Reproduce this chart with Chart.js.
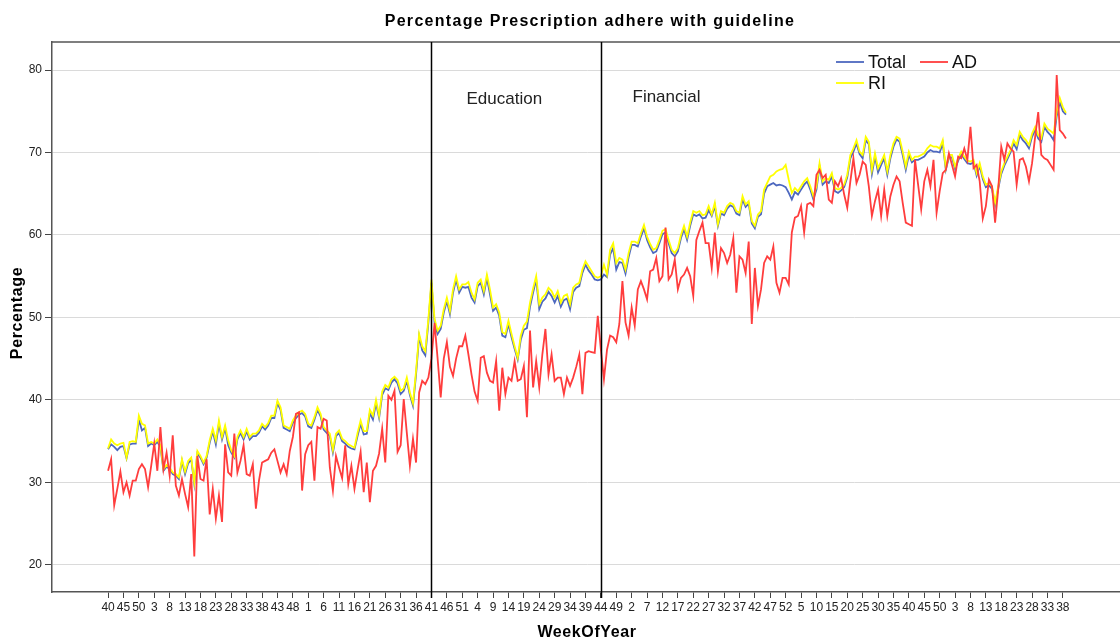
<!DOCTYPE html>
<html>
<head>
<meta charset="utf-8">
<script src="https://cdn.jsdelivr.net/npm/chart.js@4.4.1/dist/chart.umd.min.js"></script>
<style>
  html, body { margin: 0; padding: 0; background: #fff; overflow: hidden; }
  #chart { display: block; }
</style>
</head>
<body>
<canvas id="chart" width="1126" height="641"></canvas>
<script>
const $ = document;

// Week labels on the x axis, one every 5 weeks (first point is week 40)
const tickLabels = ['40','45','50','3','8','13','18','23','28','33','38','43','48','1','6','11','16','21','26','31','36','41','46','51','4','9','14','19','24','29','34','39','44','49','2','7','12','17','22','27','32','37','42','47','52','5','10','15','20','25','30','35','40','45','50','3','8','13','18','23','28','33','38'];
const yTicks = [20, 30, 40, 50, 60, 70, 80];

// Weekly percentages
const total = [
  34.0,34.6,34.3,33.9,34.3,34.4,32.9,34.6,34.7,34.7,
  37.6,36.3,36.6,34.4,34.7,34.5,34.9,34.3,31.4,31.9,
  31.6,31.0,30.8,30.4,32.6,31.0,32.3,32.8,29.8,33.5,
  33.0,32.2,33.0,34.8,36.2,34.6,37.1,35.2,36.6,34.5,
  33.6,33.0,35.2,36.0,35.2,36.2,35.2,35.6,35.6,36.0,
  36.8,36.4,36.9,37.8,37.8,39.6,38.8,36.6,36.4,36.2,
  37.2,37.8,38.2,38.4,38.0,36.8,36.6,37.6,38.8,38.0,
  36.4,36.0,35.6,33.6,35.6,36.0,35.0,34.7,34.3,34.1,
  34.0,35.6,37.1,35.8,35.9,38.4,37.6,39.6,37.8,40.6,
  41.4,41.2,42.1,42.5,42.0,40.7,41.1,42.3,40.6,39.3,
  43.1,47.7,46.0,45.4,49.4,54.2,49.4,48.0,48.6,50.6,
  52.0,50.4,53.0,54.6,53.0,53.7,53.6,53.7,52.4,51.8,
  53.8,54.2,52.8,54.8,52.8,50.8,51.2,50.2,47.8,47.6,
  49.2,47.6,46.2,44.9,47.3,48.5,48.7,51.3,53.0,54.6,
  51.0,51.9,52.3,53.1,52.6,51.8,52.6,51.3,52.1,52.3,
  51.0,53.1,53.6,53.8,55.4,56.4,55.7,55.2,54.6,54.5,
  54.6,55.2,54.9,57.6,58.4,55.8,56.7,56.6,55.3,57.3,
  58.8,58.8,58.6,59.8,60.8,59.4,58.5,57.8,58.0,59.0,
  60.1,60.3,59.0,57.8,57.4,58.0,59.6,60.7,59.4,61.1,
  62.5,62.3,62.5,62.0,62.1,63.0,62.3,63.5,61.1,62.6,
  62.4,63.2,63.6,63.4,62.6,62.4,64.3,63.4,63.8,61.4,
  60.8,62.2,62.5,65.0,65.9,66.1,66.3,66.0,66.1,66.0,
  65.8,65.1,64.3,65.2,64.9,65.5,66.1,66.5,65.5,64.3,
  65.5,68.3,66.1,66.5,66.3,67.1,65.3,65.1,65.4,65.8,
  67.0,69.3,70.1,71.1,69.8,69.3,71.5,71.0,67.4,69.5,
  67.6,68.5,69.3,67.3,69.3,70.7,71.6,71.3,69.7,67.9,
  69.7,68.8,69.1,69.1,69.3,69.5,70.0,70.3,70.1,70.1,
  70.0,71.1,67.9,69.4,69.4,68.0,69.0,69.8,69.2,68.7,
  68.6,68.8,67.2,68.4,66.8,65.8,66.0,65.6,63.6,65.6,
  67.4,68.4,69.2,70.0,71.1,70.4,72.1,71.5,71.1,70.5,
  71.9,72.7,71.7,71.3,73.1,72.5,72.1,71.5,74.4,76.1,
  75.0,74.6
];

const ad = [
  31.4,32.8,27.2,29.2,31.3,28.8,30.0,28.4,30.2,30.2,
  31.6,32.2,31.6,29.4,32.0,34.7,31.4,36.7,31.6,33.6,
  30.8,35.7,29.6,28.4,30.4,28.6,27.0,31.0,21.0,33.2,
  30.4,30.2,32.8,26.1,29.2,25.6,28.4,25.2,34.6,31.2,
  30.8,35.9,31.2,32.6,34.5,31.0,30.8,32.2,26.8,30.2,
  32.4,32.6,32.8,33.6,34.0,32.6,31.2,32.2,31.0,33.8,
  35.5,38.3,38.5,29.0,33.4,34.5,34.9,30.2,36.7,36.5,
  37.7,37.5,31.8,29.0,33.2,31.8,30.5,34.5,29.8,32.0,
  29.2,31.5,33.7,28.8,32.4,27.6,31.4,32.0,33.5,36.5,
  32.4,40.5,40.0,41.1,33.7,34.5,40.1,36.0,32.0,35.3,
  32.4,40.9,42.3,41.9,42.7,45.0,49.3,45.0,40.3,45.0,
  47.0,44.0,42.9,45.0,46.5,46.5,47.8,45.5,43.1,41.0,
  39.9,45.1,45.3,43.3,42.3,42.1,44.7,38.7,43.9,40.7,
  42.7,42.3,44.7,42.3,42.5,44.1,37.9,48.4,41.5,44.7,
  41.5,45.5,48.6,43.1,45.5,42.3,42.7,42.7,40.7,42.7,
  41.7,42.7,44.0,45.5,40.7,45.7,45.9,45.8,45.7,50.2,
  46.1,42.5,46.1,47.8,47.6,47.0,49.2,54.4,49.4,47.8,
  51.2,49.0,53.4,54.4,53.4,52.2,55.6,55.8,57.2,54.4,
  55.0,60.9,54.6,55.2,57.0,53.4,54.8,55.2,56.0,55.0,
  52.6,59.4,60.5,61.5,59.0,59.0,56.0,60.3,55.6,58.4,
  57.8,56.6,57.6,59.6,53.0,57.4,57.0,55.4,59.2,49.2,
  56.0,51.4,53.4,56.6,57.4,57.0,58.6,54.2,53.0,54.8,
  54.8,54.0,60.3,62.1,62.3,63.5,60.3,63.7,63.9,63.5,
  67.3,67.9,66.9,67.3,64.3,63.9,66.5,65.9,66.9,64.9,
  63.3,66.5,69.3,66.3,67.3,68.9,68.5,65.9,62.3,64.1,
  65.5,62.3,65.5,62.3,64.7,66.1,67.1,66.5,63.9,61.5,
  61.3,61.1,69.1,66.1,63.1,66.5,67.9,65.9,69.1,62.7,
  65.3,67.5,67.9,69.9,68.5,67.1,69.5,69.3,70.5,69.1,
  73.1,68.1,68.5,66.5,62.0,63.5,66.7,65.9,61.5,65.5,
  70.7,69.1,71.1,70.5,70.1,66.1,69.1,69.3,68.3,66.5,
  68.7,71.9,74.9,69.7,69.3,69.1,68.5,67.9,79.4,72.7,
  72.3,71.7
];

const ri = [
  34.1,35.2,34.7,34.5,34.7,34.8,33.0,34.9,35.0,34.9,
  38.1,37.1,36.9,34.7,34.9,34.7,35.2,34.5,31.6,32.1,
  31.8,31.2,31.0,30.6,32.8,31.3,32.6,33.0,30.0,33.8,
  33.2,32.4,33.2,35.1,36.5,35.1,37.5,35.5,36.9,35.1,
  33.9,33.2,35.5,36.3,35.5,36.5,35.5,35.9,35.9,36.3,
  37.1,36.7,37.2,38.1,38.1,39.9,39.1,36.9,36.7,36.5,
  37.5,38.1,38.5,38.7,38.3,37.1,36.9,37.9,39.1,38.3,
  36.7,36.3,35.9,33.9,35.9,36.3,35.3,35.0,34.6,34.4,
  34.2,36.0,37.5,36.2,36.2,38.8,38.1,40.0,38.1,41.0,
  41.8,41.5,42.5,42.8,42.4,41.1,41.4,42.7,40.9,39.6,
  43.5,48.0,46.5,45.9,49.8,54.6,49.8,48.4,49.0,51.0,
  52.4,50.8,53.4,55.0,53.4,54.0,54.0,54.3,53.0,52.2,
  54.2,54.6,53.2,55.2,53.4,51.2,51.6,50.6,48.2,48.0,
  49.6,48.0,46.5,45.1,47.8,49.0,49.5,51.8,53.5,55.0,
  51.6,52.4,52.8,53.6,53.2,52.4,53.2,51.8,52.6,52.8,
  51.6,53.6,54.0,54.2,55.8,56.8,56.2,55.6,55.0,54.8,
  55.0,56.4,55.2,58.2,59.0,56.6,57.2,57.0,55.8,57.8,
  59.2,59.2,59.0,60.2,61.2,59.8,58.9,58.2,58.4,59.4,
  60.5,60.7,59.4,58.2,57.8,58.4,60.0,61.1,59.8,61.5,
  62.9,62.7,62.9,62.4,62.5,63.5,62.5,63.9,61.3,62.9,
  62.7,63.5,63.9,63.7,62.9,62.7,64.7,63.7,64.1,61.7,
  61.1,62.5,62.9,65.5,66.3,67.1,67.3,67.7,67.9,68.0,
  68.5,66.7,65.1,65.7,65.3,65.9,66.5,66.9,65.9,64.7,
  65.9,68.7,66.5,66.9,66.7,67.5,65.7,65.5,65.7,66.1,
  67.3,69.7,70.5,71.5,70.1,69.7,71.9,71.3,67.9,69.9,
  68.1,68.9,69.7,67.7,69.7,71.1,71.9,71.7,70.1,68.3,
  70.1,69.1,69.5,69.5,69.7,69.9,70.5,70.9,70.7,70.7,
  70.5,71.5,68.1,69.7,69.7,68.3,69.3,70.1,69.5,69.0,
  68.9,69.1,67.5,68.7,67.1,66.1,66.3,65.9,63.9,65.9,
  67.7,68.7,69.5,70.3,71.5,70.9,72.5,71.9,71.5,70.9,
  72.3,73.1,72.1,71.7,73.5,72.9,72.6,72.3,75.0,76.6,
  75.5,74.8
];

// Campaign start weeks (index into the weekly arrays)
const phaseWeeks = [105, 160];
const phaseNames = ['Education', 'Financial'];

const chartBox = $.querySelector('#chart');
const fontName = '"Liberation Sans", Arial, sans-serif';

const blue = '#4d68bf';
const red = '#ff3d3d';
const yellow = '#ffff00';

const seriesOf = (values) => values.map((v, i) => ({ x: i, y: v }));

// Titles, phase markers, legend and top frame line
const overlayPlugin = {
  id: 'overlay',
  afterDraw(chart) {
    const ctx = chart.ctx;
    const area = chart.chartArea;
    const xScale = chart.scales.x;

    ctx.save();

    // top edge of the frame
    ctx.strokeStyle = '#555';
    ctx.lineWidth = 1.5;
    ctx.beginPath();
    ctx.moveTo(area.left, area.top);
    ctx.lineTo(area.right, area.top);
    ctx.stroke();

    // phase lines and names
    const textDx = [35, 31];
    const textY = [99, 97];
    phaseWeeks.forEach((week, k) => {
      const px = Math.round(xScale.getPixelForValue(week)) + 0.5;
      ctx.strokeStyle = '#000';
      ctx.lineWidth = 1.5;
      ctx.beginPath();
      ctx.moveTo(px, area.top);
      ctx.lineTo(px, area.bottom + 6);
      ctx.stroke();

      ctx.fillStyle = '#222';
      ctx.font = '17px ' + fontName;
      ctx.textAlign = 'left';
      ctx.textBaseline = 'middle';
      ctx.fillText(phaseNames[k], px + textDx[k], textY[k]);
    });

    // legend
    const legendItems = [
      { label: 'Total', color: blue, x: 836, y: 62 },
      { label: 'AD', color: red, x: 920, y: 62 },
      { label: 'RI', color: yellow, x: 836, y: 83 }
    ];
    legendItems.forEach((item) => {
      ctx.strokeStyle = item.color;
      ctx.lineWidth = 1.8;
      ctx.beginPath();
      ctx.moveTo(item.x, item.y);
      ctx.lineTo(item.x + 28, item.y);
      ctx.stroke();
      ctx.fillStyle = '#111';
      ctx.font = '18px ' + fontName;
      ctx.textAlign = 'left';
      ctx.textBaseline = 'middle';
      ctx.fillText(item.label, item.x + 32, item.y + 1);
    });

    // chart title and axis titles
    ctx.fillStyle = '#000';
    ctx.textAlign = 'center';
    ctx.textBaseline = 'middle';
    ctx.font = 'bold 16px ' + fontName;
    ctx.letterSpacing = '1.3px';
    ctx.fillText('Percentage Prescription adhere with guideline', 590, 22);
    ctx.letterSpacing = '0.6px';
    ctx.fillText('WeekOfYear', 587, 633);

    ctx.translate(18, 313);
    ctx.rotate(-Math.PI / 2);
    ctx.fillText('Percentage', 0, 0);

    ctx.restore();
  }
};

new Chart(chartBox, {
  type: 'line',
  data: {
    datasets: [
      { label: 'AD', data: seriesOf(ad), borderColor: red, order: 0 },
      { label: 'RI', data: seriesOf(ri), borderColor: yellow, order: 1 },
      { label: 'Total', data: seriesOf(total), borderColor: blue, order: 2 }
    ]
  },
  options: {
    responsive: false,
    animation: false,
    layout: { padding: { top: 42, right: 4, left: 0, bottom: 0 } },
    elements: {
      point: { radius: 0 },
      line: { borderWidth: 1.8, tension: 0 }
    },
    plugins: {
      legend: { display: false },
      title: { display: false },
      tooltip: { enabled: false }
    },
    scales: {
      x: {
        type: 'linear',
        min: -18.2,
        max: 329.2,
        afterBuildTicks: (scale) => {
          scale.ticks = tickLabels.map((label, k) => ({ value: k * 5 }));
        },
        afterFit: (scale) => { scale.height = 49; },
        ticks: {
          autoSkip: false,
          maxRotation: 0,
          minRotation: 0,
          padding: 2,
          color: '#222',
          font: { family: fontName, size: 12 },
          callback: (value, index) => tickLabels[index]
        },
        grid: { drawOnChartArea: false, drawTicks: true, tickLength: 6, tickColor: '#444' },
        border: { color: '#555', width: 1.5 }
      },
      y: {
        min: 16.7,
        max: 83.4,
        afterBuildTicks: (scale) => {
          scale.ticks = yTicks.map((v) => ({ value: v }));
        },
        afterFit: (scale) => { scale.width = 52; },
        ticks: {
          padding: 3,
          color: '#222',
          font: { family: fontName, size: 12 }
        },
        grid: { color: '#dadada', lineWidth: 1, tickLength: 7, tickColor: '#444' },
        border: { color: '#555', width: 1.5 }
      }
    }
  },
  plugins: [overlayPlugin]
});
</script>
</body>
</html>
